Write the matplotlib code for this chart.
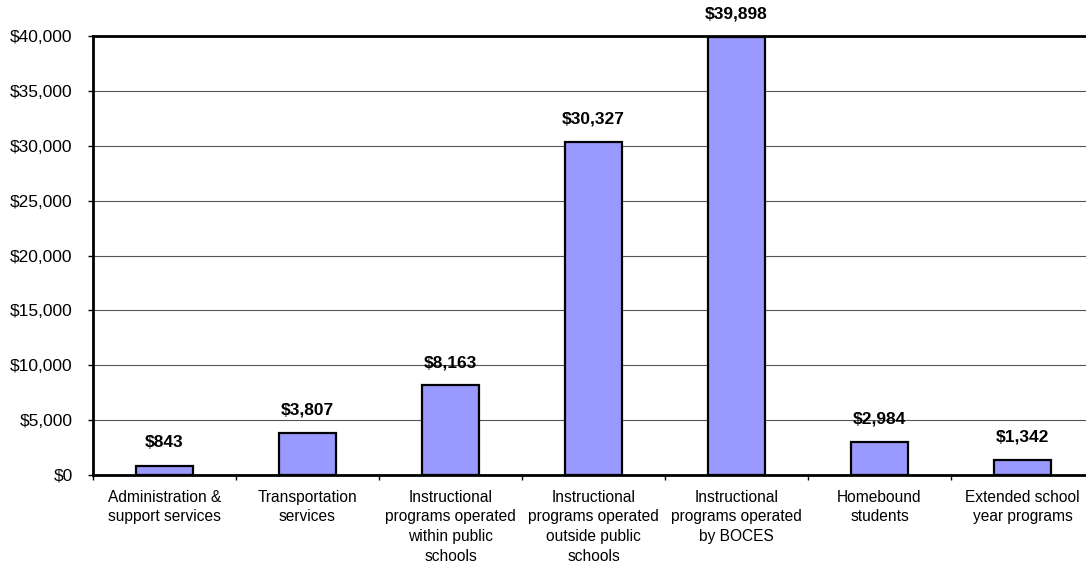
import matplotlib
matplotlib.use("Agg")
import matplotlib.pyplot as plt
from matplotlib.ticker import FuncFormatter, FixedLocator
import numpy as np

categories = [
    "Administration &\nsupport services",
    "Transportation\nservices",
    "Instructional\nprograms operated\nwithin public\nschools",
    "Instructional\nprograms operated\noutside public\nschools",
    "Instructional\nprograms operated\nby BOCES",
    "Homebound\nstudents",
    "Extended school\nyear programs",
]
values = [843, 3807, 8163, 30327, 39898, 2984, 1342]

plt.rcParams["font.family"] = ["Liberation Sans", "DejaVu Sans"]

fig = plt.figure(figsize=(10.86, 5.67), dpi=100)
ax = fig.add_axes([93 / 1086, 92 / 567, 1001 / 1086, 439 / 567])

x = np.arange(len(categories))
ax.bar(x, values, width=0.40, color="#9999FF", edgecolor="black",
       linewidth=1.6, zorder=3)

for xi, v in zip(x, values):
    ax.annotate(f"${v:,}", (xi, v), xytext=(0, 11), textcoords="offset points",
                ha="center", va="bottom", fontsize=12.5, fontweight="bold")

ax.set_xlim(-0.5, len(categories) - 0.5)
ax.set_ylim(0, 40000)
ax.set_yticks(np.arange(0, 40001, 5000))
ax.yaxis.set_major_formatter(FuncFormatter(lambda v, p: f"${v:,.0f}"))
ax.tick_params(axis="y", labelsize=12.5, length=3.6, width=1, pad=11)

ax.set_xticks(x)
ax.set_xticklabels(categories, fontsize=11.2, linespacing=1.4)
ax.tick_params(axis="x", which="major", length=0, pad=10.5)
ax.xaxis.set_minor_locator(FixedLocator(np.arange(-0.5, len(categories), 1.0)))
ax.tick_params(axis="x", which="minor", length=3.6, width=1, direction="out")

ax.grid(axis="y", color="#555555", linewidth=0.8, zorder=0)
ax.set_axisbelow(True)

for side in ["left", "top", "bottom"]:
    ax.spines[side].set_color("black")
    ax.spines[side].set_linewidth(2)
ax.spines["right"].set_visible(False)

fig.savefig("out.png", dpi=100, facecolor="white")
